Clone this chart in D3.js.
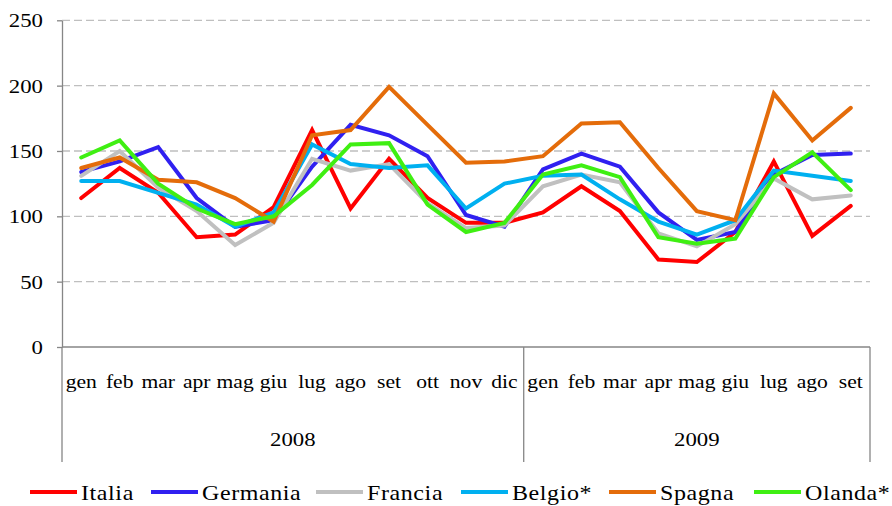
<!DOCTYPE html>
<meta charset="utf-8">
<head>
	<title>Indici mensili 2008-2009</title>
	<script src="https://cdn.jsdelivr.net/npm/d3@7"></script>
	<style>
		body { margin: 0; background: #fff; }
		text { font-family: "Liberation Serif", "Times New Roman", serif; fill: #000; }
		.grid line { stroke: #bfbfbf; stroke-width: 1.3; stroke-dasharray: 8 4; }
		.frame { stroke: #868686; stroke-width: 1.3; fill: none; }
		.series { fill: none; stroke-width: 4; stroke-linejoin: miter; stroke-linecap: round; }
	</style>
</head>
<body>
	<div id="chart"></div>
	<script>
		// data
		var months = ["gen", "feb", "mar", "apr", "mag", "giu", "lug", "ago", "set", "ott", "nov", "dic",
			"gen", "feb", "mar", "apr", "mag", "giu", "lug", "ago", "set"];
		var years = ["2008", "2009"];
		var yearSpans = [12, 9];
		var yTicks = [0, 50, 100, 150, 200, 250];

		var italia   = [114, 137, 118, 84, 86, 107, 166, 106, 144, 114, 95, 95, 103, 123, 104, 67, 65, 88, 142, 85, 108];
		var germania = [134, 142, 153, 114, 92, 97, 138, 170, 162, 146, 101, 92, 136, 148, 138, 103, 82, 88, 132, 147, 148];
		var francia  = [131, 150, 122, 104, 78, 95, 144, 135, 140, 110, 91, 93, 123, 132, 126, 87, 77, 94, 129, 113, 116];
		var belgio   = [127, 127, 118, 109, 92, 103, 155, 140, 137, 139, 106, 125, 131, 132, 113, 96, 86, 97, 135, 131, 127];
		var spagna   = [137, 145, 128, 126, 114, 96, 162, 166, 199, 170, 141, 142, 146, 171, 172, 137, 104, 97, 194, 158, 183];
		var olanda   = [145, 158, 125, 106, 94, 100, 124, 155, 156, 109, 88, 95, 132, 139, 130, 84, 79, 83, 130, 149, 120];

		var names  = ["Italia", "Germania", "Francia", "Belgio*", "Spagna", "Olanda*"];
		var colors = ["#FF0000", "#3020F0", "#C0C0C0", "#00B0F0", "#E46C0A", "#3FEF12"];
		var series = [italia, germania, francia, belgio, spagna, olanda];

		var width = 892, height = 506;
		var plotLeft = 62, plotRight = 870, plotTop = 20.3, plotBottom = 347;
		var sx = 1.2; // the original text is drawn a bit wide

		var svg = d3.select("#chart").append("svg")
			.attr("width", width).attr("height", height);

		var x = d3.scaleBand().domain(d3.range(months.length)).range([plotLeft, plotRight]);
		var y = d3.scaleLinear().domain([0, 250]).range([plotBottom, plotTop]);

		// dashed grid
		svg.append("g").attr("class", "grid")
			.selectAll("line").data(yTicks.filter(function (d) { return d > 0; }))
			.enter().append("line")
			.attr("x1", plotLeft).attr("x2", plotRight)
			.attr("y1", function (d) { return y(d); })
			.attr("y2", function (d) { return y(d); });

		// y axis
		var yAxis = svg.append("g")
			.attr("transform", "translate(" + plotLeft + ",0)")
			.call(d3.axisLeft(y).tickValues(yTicks).tickSize(5).tickSizeOuter(0));
		yAxis.select(".domain").attr("stroke", "#868686").attr("stroke-width", 1.3);
		yAxis.selectAll(".tick line").attr("stroke", "#868686").attr("stroke-width", 1.3);
		yAxis.selectAll("text")
			.attr("x", -19 / sx)
			.attr("dy", "0.34em")
			.attr("transform", "scale(" + sx + ",1)")
			.style("font-size", "19px")
			.style("font-family", "'Liberation Serif', serif")
			.attr("fill", "#000");

		// bottom axis line and category frame
		svg.append("line").attr("class", "frame")
			.attr("x1", plotLeft).attr("x2", plotRight).attr("y1", plotBottom).attr("y2", plotBottom);
		var bounds = [0];
		yearSpans.forEach(function (n, i) { bounds.push(bounds[i] + n); });
		bounds.forEach(function (b) {
			var bx = b < months.length ? x(b) : plotRight;
			svg.append("line").attr("class", "frame")
				.attr("x1", bx).attr("x2", bx).attr("y1", plotBottom).attr("y2", 462);
		});

		// month labels
		svg.append("g").selectAll("text").data(months).enter().append("text")
			.attr("text-anchor", "middle")
			.attr("transform", function (d, i) {
				return "translate(" + (x(i) + x.bandwidth() / 2) + ",388) scale(" + sx + ",1)";
			})
			.style("font-size", "18px")
			.text(function (d) { return d; });

		// year labels
		svg.append("g").selectAll("text").data(years).enter().append("text")
			.attr("text-anchor", "middle")
			.attr("transform", function (d, i) {
				var x0 = x(bounds[i]);
				var x1 = bounds[i + 1] < months.length ? x(bounds[i + 1]) : plotRight;
				return "translate(" + ((x0 + x1) / 2) + ",446) scale(" + sx + ",1)";
			})
			.style("font-size", "19px")
			.text(function (d) { return d; });

		// lines
		var line = d3.line()
			.x(function (d, i) { return x(i) + x.bandwidth() / 2; })
			.y(function (d) { return y(d); });

		svg.append("g").selectAll("path").data(series).enter().append("path")
			.attr("class", "series")
			.attr("stroke", function (d, i) { return colors[i]; })
			.attr("d", line);

		// legend
		var legendX = [30, 151, 316, 461, 609, 754];
		var lg = svg.append("g").selectAll("g").data(names).enter().append("g")
			.attr("transform", function (d, i) { return "translate(" + legendX[i] + ",492)"; });
		lg.append("line")
			.attr("x1", 0).attr("x2", 47).attr("y1", 0).attr("y2", 0)
			.attr("stroke", function (d, i) { return colors[i]; })
			.attr("stroke-width", 4);
		lg.append("text")
			.attr("transform", "translate(51,8) scale(" + sx + ",1)")
			.style("font-size", "20px")
			.style("letter-spacing", "0.5px")
			.text(function (d) { return d; });
	</script>
</body>
</html>
